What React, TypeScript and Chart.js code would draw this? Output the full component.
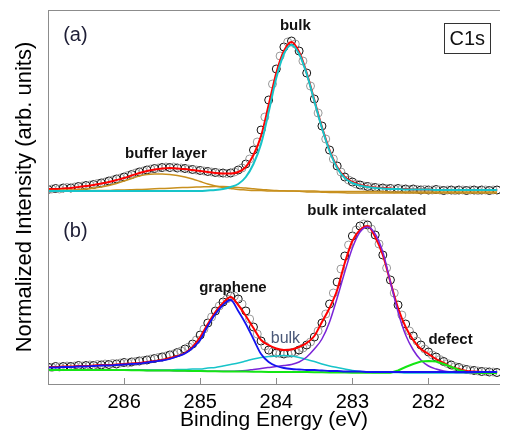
import React, { useEffect, useRef } from "react";
import { Chart, registerables } from "chart.js";

Chart.register(...registerables);

// Binding energies of the measured points (eV)
const energiesData = [
  287.00, 286.95, 286.90, 286.85, 286.80, 286.75, 286.70, 286.65, 286.60, 286.55,
  286.50, 286.45, 286.40, 286.35, 286.30, 286.25, 286.20, 286.15, 286.10, 286.05,
  286.00, 285.95, 285.90, 285.85, 285.80, 285.75, 285.70, 285.65, 285.60, 285.55,
  285.50, 285.45, 285.40, 285.35, 285.30, 285.25, 285.20, 285.15, 285.10, 285.05,
  285.00, 284.95, 284.90, 284.85, 284.80, 284.75, 284.70, 284.65, 284.60, 284.55,
  284.50, 284.45, 284.40, 284.35, 284.30, 284.25, 284.20, 284.15, 284.10, 284.05,
  284.00, 283.95, 283.90, 283.85, 283.80, 283.75, 283.70, 283.65, 283.60, 283.55,
  283.50, 283.45, 283.40, 283.35, 283.30, 283.25, 283.20, 283.15, 283.10, 283.05,
  283.00, 282.95, 282.90, 282.85, 282.80, 282.75, 282.70, 282.65, 282.60, 282.55,
  282.50, 282.45, 282.40, 282.35, 282.30, 282.25, 282.20, 282.15, 282.10, 282.05,
  282.00, 281.95, 281.90, 281.85, 281.80, 281.75, 281.70, 281.65, 281.60, 281.55,
  281.50, 281.45, 281.40, 281.35, 281.30, 281.25, 281.20, 281.15, 281.10,
];

// Binding energies of the fit curves (eV)
const energiesFit = [
  287.0, 286.9, 286.8, 286.7, 286.6, 286.5, 286.4, 286.3, 286.2, 286.1,
  286.0, 285.9, 285.8, 285.7, 285.6, 285.5, 285.4, 285.3, 285.2, 285.1,
  285.0, 284.9, 284.8, 284.7, 284.6, 284.5, 284.4, 284.3, 284.2, 284.1,
  284.0, 283.9, 283.8, 283.7, 283.6, 283.5, 283.4, 283.3, 283.2, 283.1,
  283.0, 282.9, 282.8, 282.7, 282.6, 282.5, 282.4, 282.3, 282.2, 282.1,
  282.0, 281.9, 281.8, 281.7, 281.6, 281.5, 281.4, 281.3, 281.2, 281.1,
];

const xTicks = [286, 285, 284, 283, 282];

// ---- Panel (a) ----
const dataA = [
  2.5, 3, 3.5, 3, 4, 4.5, 4, 5, 5.5, 6,
  6.5, 7, 7.5, 8.5, 9, 10, 11, 12, 13, 14,
  15, 16.5, 17.5, 19, 20, 21, 22, 23, 23.5, 24,
  24.5, 25, 24.5, 25, 24, 24, 23.5, 23, 22.5, 22,
  21.5, 21, 20.5, 20, 19.5, 19, 19, 18.5, 19, 20,
  22, 24, 28, 33, 42, 50, 62, 75, 92, 108,
  123, 136, 145, 150, 151, 148, 141, 131, 119, 106,
  93, 79, 66, 53, 42, 33, 26, 20, 15, 12,
  10, 8, 7, 6, 5.5, 5, 4.5, 4, 4, 3.5,
  3.5, 3, 3.5, 3, 3, 2.5, 3, 2.5, 2, 2.5,
  2, 2, 2.5, 2, 1.5, 2, 2, 1.5, 2, 2,
  1.5, 2, 2, 1.5, 2, 2, 1.5, 2, 2,
];
const fitA = [
  3, 3, 3.5, 4, 5, 6, 7, 8.5, 10, 12,
  14, 16.5, 19, 21, 22.5, 23.5, 24, 23.5, 23, 22,
  21, 20, 19, 18.5, 18.5, 20, 25, 37, 56, 87,
  119, 141, 150, 140, 119, 92, 65, 42, 25, 15,
  10, 7, 5.5, 4.5, 4, 3.5, 3, 3, 2.5, 2.5,
  2.5, 2, 2, 2, 2, 2, 2, 2, 2, 2,
];
const bulkA = [
  1, 1, 1, 1, 1, 1, 1, 1, 1, 1,
  1, 1, 1, 1, 1, 1, 1, 1, 1, 1,
  1, 1.5, 2, 3, 5, 8, 15, 28, 48, 80,
  114, 138, 147, 138, 118, 91, 64, 41, 24, 14,
  9, 6.5, 5, 4, 3.5, 3, 3, 2.5, 2.5, 2.5,
  2.5, 2, 2, 2, 2, 2, 2, 2, 2, 2,
];
const buffer1A = [
  1.5, 1.5, 2, 2, 2.5, 3, 4, 5, 6.5, 8.5,
  11, 13.5, 16, 17.5, 18, 18, 17.5, 16.5, 15, 13,
  10.5, 8, 6, 4.5, 3.5, 2.5, 2, 1.5, 1.5, 1,
  1, 1, 1, 1, 1, 1, 0.5, 0.5, 0.5, 0.5,
  0.5, 0.5, 0.5, 0.5, 0.5, 0, 0, 0, 0, 0,
  0, 0, 0, 0, 0, 0, 0, 0, 0, 0,
];
const buffer2A = [
  1, 1, 1, 1, 1, 1.5, 1.5, 1.5, 1.5, 2,
  2, 2.2, 2.5, 2.8, 3.2, 3.5, 3.8, 4.2, 4.5, 4.8,
  5, 5.3, 5.5, 5.5, 5, 4.5, 4, 3.2, 2.5, 2,
  1.5, 1.2, 1, 0.7, 0, 0, -0.2, -0.4, -0.6, -0.8,
  -1, -1, -1, -1, -1, -1, -1, -1, -1, -1,
  -1, -1, -1, -1, -1, -1, -1, -1, -1, -1,
];

// ---- Panel (b) ----
const dataB = [
  5, 4.5, 5.5, 5, 5.5, 6, 5.5, 6, 6.5, 6,
  6.5, 7, 6.5, 7.5, 7, 8, 7.5, 8.5, 8, 9,
  9.5, 9, 10, 10.5, 11, 11.5, 12, 13, 13.5, 14.5,
  15, 16, 17, 18, 19.5, 21, 23, 25, 28, 32,
  37, 43, 49, 55, 61, 66, 70, 73, 76, 76,
  73, 68, 61, 53, 45, 38, 31, 26, 22, 20,
  19, 18.5, 18, 18.5, 19, 20, 22, 24, 27, 30,
  35, 41, 49, 58, 68, 79, 90, 103, 116, 127,
  136, 142, 146, 148, 147, 143, 137, 128, 117, 104,
  92, 79, 67, 57, 48, 41, 36, 31, 27, 23,
  20, 17, 15, 12.5, 10.5, 8.5, 7, 5.5, 4.5, 3.5,
  2.5, 2, 1.5, 1, 0.5, 0.5, 0, 0, -0.5,
];
const fitB = [
  5, 5, 5.5, 5.5, 6, 6, 6.5, 7, 7, 7.5,
  8, 8.5, 9, 10, 11, 12, 14, 16, 19, 25,
  35, 48, 60, 69, 75, 67, 56, 44, 32, 27,
  23.5, 22, 22.5, 25, 29, 36, 50, 64, 82, 109,
  131, 142, 146, 135, 117, 90, 64, 45, 32, 23,
  18, 13, 9, 5, 3, 1, 0.5, 0, -0.5, -1,
];
const grapheneB = [
  4.5, 4.5, 5, 5, 5.5, 5.5, 6, 6.5, 6.5, 7,
  7.5, 8, 8.5, 9.5, 10.5, 11.5, 13, 15.5, 18.5, 24,
  32, 46, 58, 67, 72, 61, 48, 33, 18, 10,
  6, 4, 3, 2.5, 2, 2, 1.5, 1, 1, 0.5,
  0.5, 0.5, 0, 0, 0, 0, 0, 0, 0, 0,
  0, 0, 0, 0, 0, 0, 0, 0, 0, 0,
];
const bulkB = [
  2, 2, 2, 2, 2, 2, 2, 2, 2, 2,
  2, 2, 2, 2, 2, 2, 2, 2.5, 2.5, 3,
  3, 4, 4.5, 6, 7.5, 9, 11, 13, 14.5, 15.5,
  16, 16.5, 16, 14.5, 12.5, 10.5, 8, 6, 4.5, 3,
  1.5, 0.5, 0, -0.5, -0.5, -0.5, -0.5, -1, -1, -1,
  -1, -1, -1, -1, -1, -1, -1, -1, -1, -1,
];
const intercalatedB = [
  2, 2, 2, 2, 2, 2, 2, 2, 2, 2,
  2, 1.8, 1.8, 1.6, 1.6, 1.4, 1.4, 1.2, 1.2, 1,
  1, 0.8, 0.8, 0.8, 0.8, 1, 1.5, 2.5, 3.5, 4.5,
  5.5, 6.5, 7.5, 10, 15, 23, 33, 50, 74, 100,
  124, 140, 145, 138, 120, 90, 60, 37, 22, 12,
  6, 3, 1, 0, -0.5, -0.5, -1, -1, -1, -1,
];
const defectB = [
  2, 2, 2, 2, 2, 2, 2, 2, 2, 2,
  2, 1.8, 1.8, 1.6, 1.6, 1.4, 1.4, 1.2, 1.2, 1,
  1, 0.8, 0.8, 0.6, 0.6, 0.5, 0.4, 0.3, 0.2, 0.1,
  0, 0, 0, 0, 0, -0.2, -0.3, -0.4, -0.5, -0.6,
  -0.7, -0.8, -0.8, -0.8, -0.8, -0.8, 1.5, 5, 8, 10.5,
  11, 10.5, 8, 5, 2, 0, -0.5, -1, -1, -1,
];

// vertical stacking offsets of the two spectra
const OFFSET_A = 192;
const OFFSET_B = 12;

const FONT = "'Liberation Sans', Arial, Helvetica, sans-serif";

const annotations = [
  { text: "(a)", x: 286.64, y: 349, size: 20, weight: "normal", color: "#1e1e36" },
  { text: "(b)", x: 286.64, y: 153, size: 20, weight: "normal", color: "#1e1e36" },
  { text: "bulk", x: 283.75, y: 358, size: 15, weight: "bold", color: "#111" },
  { text: "buffer layer", x: 285.45, y: 230, size: 15, weight: "bold", color: "#111" },
  { text: "bulk intercalated", x: 282.81, y: 173, size: 15, weight: "bold", color: "#111" },
  { text: "graphene", x: 284.57, y: 96, size: 15, weight: "bold", color: "#111" },
  { text: "bulk", x: 283.88, y: 45, size: 16, weight: "normal", color: "#4a5878" },
  { text: "defect", x: 281.71, y: 44, size: 15, weight: "bold", color: "#111" },
];

function toPoints(xs: number[], ys: number[], off: number) {
  return xs.map((x, i) => ({ x, y: ys[i] + off }));
}

const framePlugin = {
  id: "frame",
  afterDraw(chart: any) {
    const { ctx, chartArea: a, scales } = chart;
    const xs = scales.x;
    const ys = scales.y;
    ctx.save();
    ctx.strokeStyle = "#8c8c8c";
    ctx.lineWidth = 1;
    ctx.beginPath();
    ctx.moveTo(a.left, a.top + 0.5);
    ctx.lineTo(a.right, a.top + 0.5);
    ctx.moveTo(a.left + 0.5, a.top);
    ctx.lineTo(a.left + 0.5, a.bottom + 1);
    ctx.moveTo(a.left, a.bottom + 0.5);
    ctx.lineTo(a.right, a.bottom + 0.5);
    xTicks.forEach((v) => {
      const px = Math.round(xs.getPixelForValue(v)) + 0.5;
      ctx.moveTo(px, a.bottom);
      ctx.lineTo(px, a.bottom - 6);
    });
    ctx.stroke();

    ctx.textAlign = "center";
    ctx.textBaseline = "middle";
    annotations.forEach((an) => {
      ctx.font = `${an.weight} ${an.size}px ${FONT}`;
      ctx.fillStyle = an.color;
      ctx.fillText(an.text, xs.getPixelForValue(an.x), ys.getPixelForValue(an.y));
    });

    // C1s box
    const cx = xs.getPixelForValue(281.49);
    const cy = ys.getPixelForValue(346);
    ctx.fillStyle = "#fff";
    ctx.fillRect(cx - 23, cy - 15, 46, 30);
    ctx.strokeStyle = "#333";
    ctx.strokeRect(Math.round(cx - 23) + 0.5, Math.round(cy - 15) + 0.5, 46, 30);
    ctx.font = `normal 20px ${FONT}`;
    ctx.fillStyle = "#111";
    ctx.fillText("C1s", cx, cy + 1);
    ctx.restore();
  },
};

function lineDs(label: string, xs: number[], ys: number[], off: number, color: string, width: number, order: number, smooth = true) {
  return {
    label,
    data: toPoints(xs, ys, off),
    borderColor: color,
    backgroundColor: color,
    borderWidth: width,
    pointRadius: 0,
    fill: false,
    order,
    tension: smooth ? 0.4 : 0,
    cubicInterpolationMode: smooth ? "monotone" : "default",
  };
}

function pointDs(label: string, xs: number[], ys: number[], off: number) {
  return {
    label,
    data: toPoints(xs, ys, off),
    showLine: false,
    pointRadius: 4,
    pointBorderWidth: 1,
    pointBackgroundColor: "rgba(0,0,0,0)",
    pointBorderColor: (c: any) => (c.dataIndex % 2 ? "#9a9a9a" : "#141414"),
    order: 10,
  };
}

export default function App() {
  const ref = useRef<HTMLCanvasElement>(null);
  useEffect(() => {
    const canvas = ref.current;
    if (!canvas) return;
    const chart = new Chart(canvas, {
      type: "line",
      data: {
        datasets: [
          lineDs("bulk (a)", energiesFit, bulkA, OFFSET_A, "#17c4c9", 2, 1),
          lineDs("buffer 1 (a)", energiesFit, buffer1A, OFFSET_A, "#c8901e", 1.5, 2),
          lineDs("buffer 2 (a)", energiesFit, buffer2A, OFFSET_A, "#c8901e", 1.5, 2),
          lineDs("fit (a)", energiesFit, fitA, OFFSET_A, "#ff0000", 2, 3),
          pointDs("data (a)", energiesData, dataA, OFFSET_A),
          lineDs("bulk intercalated", energiesFit, intercalatedB, OFFSET_B, "#7a24d8", 1.5, 2),
          lineDs("graphene", energiesFit, grapheneB, OFFSET_B, "#1414f0", 1.8, 1),
          lineDs("bulk (b)", energiesFit, bulkB, OFFSET_B, "#17c4c9", 1.5, 2),
          lineDs("defect", energiesFit, defectB, OFFSET_B, "#14e614", 2, 1, false),
          lineDs("fit (b)", energiesFit, fitB, OFFSET_B, "#ff0000", 2, 3),
          pointDs("data (b)", energiesData, dataB, OFFSET_B),
        ] as any,
      },
      options: {
        animation: false,
        responsive: false,
        devicePixelRatio: 1,
        layout: { padding: { top: 10, left: 0, right: 0, bottom: 0 } },
        plugins: { legend: { display: false }, tooltip: { enabled: false } },
        scales: {
          x: {
            type: "linear",
            reverse: true,
            min: 281.06,
            max: 287,
            grid: { display: false, drawTicks: false },
            border: { display: false },
            afterBuildTicks: (s: any) => {
              s.ticks = xTicks.map((v) => ({ value: v }));
            },
            afterFit: (s: any) => {
              s.height = 58;
            },
            ticks: {
              font: { family: FONT, size: 20 },
              color: "#000",
              padding: 6,
              maxRotation: 0,
              autoSkip: false,
            },
            title: {
              display: true,
              text: "Binding Energy (eV)",
              font: { family: FONT, size: 21 },
              color: "#000",
              padding: { top: 0, bottom: 9 },
            },
          },
          y: {
            min: 0,
            max: 374,
            ticks: { display: false },
            grid: { display: false, drawTicks: false },
            border: { display: false },
            afterFit: (s: any) => {
              s.width = 48;
            },
            title: {
              display: true,
              text: "Normalized Intensity (arb. units)",
              font: { family: FONT, size: 22 },
              color: "#000",
              padding: { top: 12, bottom: 0 },
            },
          },
        },
      } as any,
      plugins: [framePlugin],
    });
    return () => chart.destroy();
  }, []);
  return (
    <div style={{ position: "absolute", left: 0, top: 0, width: 505, height: 442 }}>
      <canvas ref={ref} width={505} height={442} style={{ display: "block" }} />
    </div>
  );
}
